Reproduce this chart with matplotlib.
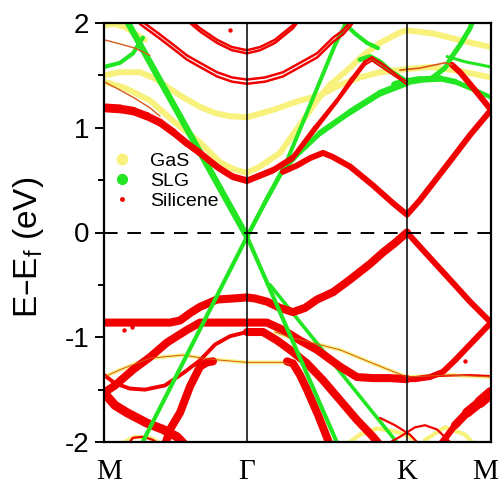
import numpy as np
import matplotlib
matplotlib.use("Agg")
import matplotlib.pyplot as plt
import matplotlib.transforms as mtransforms
from matplotlib.collections import LineCollection
from matplotlib.lines import Line2D

# ---------------- data ----------------
sym_k = [0.0, 1.43, 3.03, 3.87]
sym_labels = ["M", "Γ", "K", "M"]
ytick_vals = [-2, -1, 0, 1, 2]
ytick_labels = ["-2", "-1", "0", "1", "2"]
legend_labels = ["GaS", "SLG", "Silicene"]

# SLG (graphene) bands
slg_dirac_lu_k = [1.43, 0.20]
slg_dirac_lu_e = [-0.04, 2.07]
slg_dirac_ru_k = [1.43, 1.81, 2.08, 2.31, 2.41, 2.43]
slg_dirac_ru_e = [-0.04, 0.64, 1.26, 1.79, 1.98, 2.03]
slg_hook_k = [2.39, 2.51, 2.63, 2.74]
slg_hook_e = [2.01, 1.90, 1.81, 1.76]
slg_gk_k = [1.43, 1.61, 1.79, 1.96, 2.16, 2.46, 2.76, 3.03]
slg_gk_e = [-0.04, 0.29, 0.60, 0.77, 0.95, 1.15, 1.33, 1.43]
slg_hump_k = [2.56, 2.66, 2.76, 2.88, 3.03]
slg_hump_e = [1.65, 1.68, 1.63, 1.53, 1.44]
slg_km_k = [2.91, 3.03, 3.16, 3.36, 3.51, 3.71, 3.87]
slg_km_e = [1.41, 1.44, 1.46, 1.47, 1.44, 1.36, 1.29]
slg_km_up_k = [3.26, 3.41, 3.48, 3.56, 3.66, 3.70]
slg_km_up_e = [1.46, 1.57, 1.68, 1.79, 1.95, 2.05]
slg_km_mid_k = [3.43, 3.61, 3.87]
slg_km_mid_e = [1.68, 1.63, 1.58]
slg_m_k = [0.00, 0.16, 0.29, 0.36, 0.39]
slg_m_e = [1.58, 1.62, 1.71, 1.82, 1.86]
slg_dirac_ld_k = [1.43, 0.36]
slg_dirac_ld_e = [-0.04, -2.05]
slg_dirac_rd_k = [1.43, 2.35]
slg_dirac_rd_e = [-0.04, -2.05]
slg_fold_k = [1.66, 2.96]
slg_fold_e = [-0.50, -2.04]

# Silicene bands
si_cb_k = [1.79, 1.93, 2.06, 2.19, 2.29, 2.46, 2.69, 2.89, 3.03, 3.16, 3.46, 3.66, 3.87]
si_cb_e = [0.58, 0.64, 0.71, 0.76, 0.72, 0.63, 0.45, 0.28, 0.17, 0.31, 0.68, 0.93, 1.17]
si_cb_m_k = [3.87, 3.71, 3.56, 3.48]
si_cb_m_e = [1.17, 1.36, 1.53, 1.60]
si_cb_m_thin_k = [3.48, 3.41, 3.31, 3.16, 2.96]
si_cb_m_thin_e = [1.60, 1.62, 1.60, 1.57, 1.55]
si_vb1_k = [0.00, 0.26, 0.46, 0.66, 0.76, 0.86, 0.96, 1.13, 1.29, 1.43, 1.51, 1.63,
            1.76, 1.89, 2.01, 2.13, 2.29, 2.46, 2.66, 2.79, 2.91, 3.03]
si_vb1_e = [-0.86, -0.86, -0.86, -0.86, -0.84, -0.77, -0.71, -0.64, -0.63, -0.62, -0.63, -0.66,
            -0.72, -0.76, -0.72, -0.64, -0.57, -0.45, -0.30, -0.19, -0.10, 0.00]
si_vb_km_k = [3.03, 3.23, 3.46, 3.66, 3.87]
si_vb_km_e = [0.00, -0.21, -0.45, -0.66, -0.86]
si_vb2_mk_k = [3.87, 3.66, 3.51, 3.39, 3.26, 3.11, 3.03]
si_vb2_mk_e = [-0.86, -1.07, -1.22, -1.33, -1.38, -1.40, -1.40]
si_vb2_k = [3.03, 2.86, 2.69, 2.53, 2.36, 2.13, 1.96, 1.79, 1.63, 1.43,
            1.13, 0.96, 0.83, 0.63, 0.46, 0.29, 0.11, 0.00]
si_vb2_e = [-1.40, -1.39, -1.39, -1.38, -1.28, -1.12, -1.03, -0.93, -0.86, -0.86,
            -0.86, -0.86, -0.93, -1.05, -1.19, -1.31, -1.46, -1.53]
si_vb3l_k = [0.00, 0.11, 0.26, 0.41, 0.61, 0.81, 0.96, 1.11, 1.26, 1.43]
si_vb3l_e = [-1.36, -1.44, -1.49, -1.50, -1.46, -1.33, -1.22, -1.07, -0.99, -0.95]
si_vb3r_k = [1.43, 1.59, 1.73, 1.86, 2.03, 2.19, 2.36, 2.53, 2.69, 2.76]
si_vb3r_e = [-0.95, -0.95, -1.03, -1.12, -1.25, -1.41, -1.60, -1.79, -1.95, -2.03]
si_vb4_k = [0.00, 0.11, 0.23, 0.43, 0.59, 0.73, 0.81]
si_vb4_e = [-1.53, -1.65, -1.72, -1.82, -1.88, -1.95, -2.03]
si_vb5l_k = [0.61, 0.66, 0.76, 0.86, 0.96, 1.03, 1.09]
si_vb5l_e = [-2.03, -1.88, -1.72, -1.47, -1.28, -1.24, -1.23]
si_vb5r_k = [1.83, 1.89, 1.96, 2.03, 2.14, 2.26]
si_vb5r_e = [-1.23, -1.25, -1.36, -1.50, -1.74, -2.03]
si_vbm_k = [3.36, 3.51, 3.63, 3.76, 3.87]
si_vbm_e = [-2.03, -1.84, -1.72, -1.62, -1.53]
si_flat_k = [3.03, 3.36, 3.66, 3.87]
si_flat_e = [-1.39, -1.37, -1.36, -1.37]
si_bot_k1_k = [2.81, 2.96, 3.11, 3.21, 3.33, 3.46]
si_bot_k1_e = [-2.03, -1.95, -1.86, -1.84, -1.88, -2.00]
si_bot_k2_k = [2.76, 2.91, 3.06, 3.16]
si_bot_k2_e = [-1.77, -1.84, -1.93, -2.03]
si_bot_m_k = [0.23, 0.29, 0.39, 0.49, 0.56]
si_bot_m_e = [-2.03, -1.96, -1.95, -1.98, -2.03]
si_c1_k = [0.00, 0.16, 0.29, 0.43, 0.56, 0.69, 0.83, 0.96, 1.13, 1.28, 1.43,
           1.69, 1.89, 2.11, 2.33, 2.48, 2.61, 2.68, 2.81, 2.96, 3.03]
si_c1_e = [1.19, 1.18, 1.16, 1.11, 1.05, 0.96, 0.85, 0.76, 0.63, 0.54, 0.50,
           0.60, 0.72, 1.00, 1.26, 1.47, 1.63, 1.67, 1.59, 1.48, 1.44]
si_c1b_k = [0.46, 0.69, 0.96, 1.13, 1.28, 1.43, 1.69, 1.89, 2.33, 2.61, 2.68, 2.96, 3.03]
si_c1b_e = [1.09, 0.93, 0.73, 0.60, 0.51, 0.47, 0.57, 0.69, 1.24, 1.60, 1.64, 1.46, 1.41]
si_c2_k = [0.36, 0.56, 0.71, 0.83, 0.96, 1.13, 1.28, 1.43, 1.61, 1.79, 1.96, 2.13, 2.29, 2.39, 2.48]
si_c2a_e = [2.03, 1.89, 1.78, 1.69, 1.62, 1.53, 1.48, 1.46, 1.48, 1.53, 1.62, 1.71, 1.86, 1.93, 2.03]
si_c2b_e = [1.99, 1.85, 1.74, 1.65, 1.58, 1.49, 1.44, 1.42, 1.44, 1.49, 1.58, 1.67, 1.82, 1.89, 1.99]
si_c3_k = [0.86, 0.96, 1.13, 1.28, 1.43, 1.56, 1.71, 1.89, 1.93]
si_c3a_e = [2.03, 1.95, 1.84, 1.77, 1.74, 1.77, 1.84, 1.98, 2.03]
si_c3b_e = [2.00, 1.92, 1.81, 1.74, 1.71, 1.74, 1.81, 1.95, 2.00]
si_o1_k = [0.00, 0.16, 0.31, 0.46]
si_o1_e = [1.84, 1.80, 1.76, 1.69]
si_o2_k = [0.00, 0.16, 0.31, 0.46, 0.56]
si_o2_e = [1.44, 1.36, 1.28, 1.19, 1.11]
si_dots_k = [0.20, 0.28, 3.61, 1.26]
si_dots_e = [-0.93, -0.90, -1.23, 1.93]

# GaS bands
gas_1_k = [0.00, 0.16, 0.36, 0.51, 0.63, 0.81, 0.96, 1.11, 1.26, 1.43, 1.69, 1.96,
           2.16, 2.36, 2.56, 2.76, 3.03, 3.26, 3.51, 3.87]
gas_1_e = [1.50, 1.53, 1.53, 1.47, 1.39, 1.28, 1.20, 1.14, 1.11, 1.10, 1.17, 1.26,
           1.31, 1.41, 1.48, 1.53, 1.56, 1.58, 1.55, 1.48]
gas_2_k = [0.00, 0.21, 0.46, 0.71, 0.96, 1.16, 1.31, 1.43, 1.56, 1.76, 1.99, 2.13,
           2.26, 2.41, 2.59, 2.76, 2.96, 3.03, 3.29, 3.63, 3.87]
gas_2_e = [1.44, 1.38, 1.26, 1.05, 0.86, 0.67, 0.60, 0.57, 0.63, 0.76, 1.07, 1.26,
           1.41, 1.53, 1.69, 1.81, 1.91, 1.93, 1.90, 1.82, 1.77]
gas_top_k = [0.00, 0.11, 0.21, 0.31, 0.41]
gas_top_e = [1.98, 1.99, 1.96, 1.90, 1.84]
gas_v1_k = [0.00, 0.16, 0.46, 0.79, 1.06, 1.43, 1.79, 1.86]
gas_v1_e = [-1.38, -1.31, -1.20, -1.17, -1.21, -1.24, -1.24, -1.26]
gas_v2_k = [1.71, 1.86, 2.36, 2.69, 3.03, 3.46, 3.87]
gas_v2_e = [-0.95, -1.00, -1.12, -1.25, -1.38, -1.36, -1.38]
gas_bot_k1_k = [2.41, 2.56, 2.73, 2.91, 3.06, 3.16]
gas_bot_k1_e = [-2.03, -1.93, -1.87, -1.90, -1.95, -2.03]
gas_bot_k2_k = [3.21, 3.41, 3.61, 3.71]
gas_bot_k2_e = [-1.98, -1.86, -1.93, -2.03]
gas_bot_m_k = [0.14, 0.31, 0.46, 0.61]
gas_bot_m_e = [-2.03, -1.95, -1.96, -2.03]

# ---------------- style ----------------
C_GAS = "#f8f27c"
C_SLG = "#22e622"
C_SI = "#f00000"
C_OR = "#d8581a"

plt.rcParams["font.family"] = ["Liberation Sans", "DejaVu Sans"]
plt.rcParams["mathtext.default"] = "regular"

fig = plt.figure(figsize=(5.03, 4.96), dpi=100)
ax = fig.add_axes([104 / 503, 1 - 442 / 496, 387 / 503, 419 / 496])


def band(k, e, w, color, z=2):
    k = np.asarray(k, float)
    e = np.asarray(e, float)
    if np.isscalar(w):
        ax.plot(k, e, color=color, lw=w, solid_capstyle="round",
                solid_joinstyle="round", zorder=z)
        return
    w0, w1 = w
    pts = np.column_stack([k, e])
    segs = np.stack([pts[:-1], pts[1:]], axis=1)
    n = len(segs)
    frac = (np.arange(n) + 0.5) / n
    widths = w0 + (w1 - w0) * frac
    lc = LineCollection(segs, linewidths=widths, colors=color,
                        capstyle="round", joinstyle="round", zorder=z)
    ax.add_collection(lc)


# GaS (bottom layer)
band(gas_1_k, gas_1_e, 4.3, C_GAS, 1)
band(gas_2_k, gas_2_e, 4.3, C_GAS, 1)
band(gas_top_k, gas_top_e, 4.0, C_GAS, 1)
band(gas_v1_k, gas_v1_e, 2.6, C_GAS, 1)
band(gas_v2_k, gas_v2_e, 2.6, C_GAS, 1)
band(gas_bot_k1_k, gas_bot_k1_e, 3.0, C_GAS, 1)
band(gas_bot_k2_k, gas_bot_k2_e, 3.0, C_GAS, 1)
band(gas_bot_m_k, gas_bot_m_e, 3.0, C_GAS, 1)

# SLG
band(slg_gk_k, slg_gk_e, (2.8, 5.0), C_SLG, 2)
band(slg_hump_k, slg_hump_e, 3.5, C_SLG, 2)
band(slg_km_k, slg_km_e, (5.8, 3.0), C_SLG, 2)
band(slg_km_up_k, slg_km_up_e, 3.6, C_SLG, 2)
band(slg_km_mid_k, slg_km_mid_e, 2.2, C_SLG, 2)
band(slg_m_k, slg_m_e, 3.0, C_SLG, 2)
band(slg_hook_k, slg_hook_e, 3.0, C_SLG, 2)
band(slg_fold_k, slg_fold_e, 2.6, C_SLG, 2)
band(slg_dirac_lu_k, slg_dirac_lu_e, (2.8, 6.5), C_SLG, 2)
band(slg_dirac_ru_k, slg_dirac_ru_e, 2.9, C_SLG, 2)

# Silicene
band(si_c1_k, si_c1_e, (6.5, 1.3), C_SI, 3)
band(si_c1b_k, si_c1b_e, 1.3, C_SI, 3)
band(si_c2_k, si_c2a_e, 1.8, C_SI, 3)
band(si_c2_k, si_c2b_e, 1.8, C_SI, 3)
band(si_c3_k, si_c3a_e, 1.8, C_SI, 3)
band(si_c3_k, si_c3b_e, 1.8, C_SI, 3)
band(si_o1_k, si_o1_e, 1.0, C_OR, 3)
band(si_o2_k, si_o2_e, 1.0, C_OR, 3)
band(si_cb_k, si_cb_e, 4.3, C_SI, 3)
band(si_cb_m_k, si_cb_m_e, 4.3, C_SI, 3)
band(si_cb_m_thin_k, si_cb_m_thin_e, 1.2, C_OR, 3)
band(si_vb1_k, si_vb1_e, 5.8, C_SI, 3)
band(si_vb_km_k, si_vb_km_e, 4.3, C_SI, 3)
band(si_vb2_mk_k, si_vb2_mk_e, 4.3, C_SI, 3)
band(si_vb2_k, si_vb2_e, 5.8, C_SI, 3)
band(si_vb3l_k, si_vb3l_e, 2.8, C_SI, 3)
band(si_vb3r_k, si_vb3r_e, 5.8, C_SI, 3)
band(si_vb4_k, si_vb4_e, 6.5, C_SI, 3)
band(si_vb5l_k, si_vb5l_e, 5.8, C_SI, 3)
band(si_vb5r_k, si_vb5r_e, 5.8, C_SI, 3)
band(si_vbm_k, si_vbm_e, (4.0, 9.0), C_SI, 3)
band(si_flat_k, si_flat_e, 1.4, C_SI, 3)
band(si_bot_k1_k, si_bot_k1_e, 1.6, C_SI, 3)
band(si_bot_k2_k, si_bot_k2_e, 1.6, C_SI, 3)
band(si_bot_m_k, si_bot_m_e, 1.6, C_SI, 3)
band(gas_v1_k, gas_v1_e, 0.7, C_OR, 3)
band(gas_v2_k, gas_v2_e, 0.7, C_OR, 3)
ax.scatter(si_dots_k, si_dots_e, s=10, color=C_SI, zorder=3, linewidths=0)

# Dirac cone lines of SLG on top
band(slg_dirac_ld_k, slg_dirac_ld_e, 3.0, C_SLG, 4)
band(slg_dirac_rd_k, slg_dirac_rd_e, 3.0, C_SLG, 4)

# reference lines
for kk in sym_k[1:3]:
    ax.axvline(kk, color="black", lw=1.1, zorder=10)
ax.axhline(0, color="black", lw=1.4, ls=(0, (7, 5)), zorder=10)

ax.set_xlim(sym_k[0], sym_k[-1])
ax.set_ylim(-2, 2)
ax.set_xticks(sym_k)
ax.set_xticklabels(sym_labels, family="Liberation Serif", fontsize=21)
ax.tick_params(axis="x", length=0, pad=12)
# the two end labels sit slightly inside the frame, as in the reference
xlabels = ax.get_xticklabels()
xlabels[0].set_transform(xlabels[0].get_transform() +
                         mtransforms.ScaledTranslation(5 / 100, 0, fig.dpi_scale_trans))
xlabels[-1].set_transform(xlabels[-1].get_transform() +
                          mtransforms.ScaledTranslation(-6 / 100, 0, fig.dpi_scale_trans))
ax.set_yticks(ytick_vals)
ax.set_yticklabels(ytick_labels, fontsize=20)
ax.set_yticks([-1.5, -0.5, 0.5, 1.5], minor=True)
ax.tick_params(axis="y", which="major", direction="out", length=6.5, width=1.4, pad=4)
ax.tick_params(axis="y", which="minor", direction="out", length=4, width=1.4)
for sp in ax.spines.values():
    sp.set_linewidth(1.6)
    sp.set_zorder(11)

ax.set_ylabel("E–E$_f$ (eV)", fontsize=24)
ax.yaxis.set_label_coords(-0.15, 0.465)

handles = [
    Line2D([], [], ls="none", marker="o", ms=7.5, color=C_GAS),
    Line2D([], [], ls="none", marker="o", ms=7.0, color=C_SLG),
    Line2D([], [], ls="none", marker="o", ms=2.5, color=C_SI),
]
ax.legend(handles, legend_labels, loc="upper left",
          bbox_to_anchor=(112 / 503, 1 - 152 / 496), bbox_transform=fig.transFigure,
          frameon=False, fontsize=14, handlelength=1.0, handletextpad=0.95,
          labelspacing=0.12, borderpad=0, borderaxespad=0)

fig.savefig("out.png", dpi=100)
